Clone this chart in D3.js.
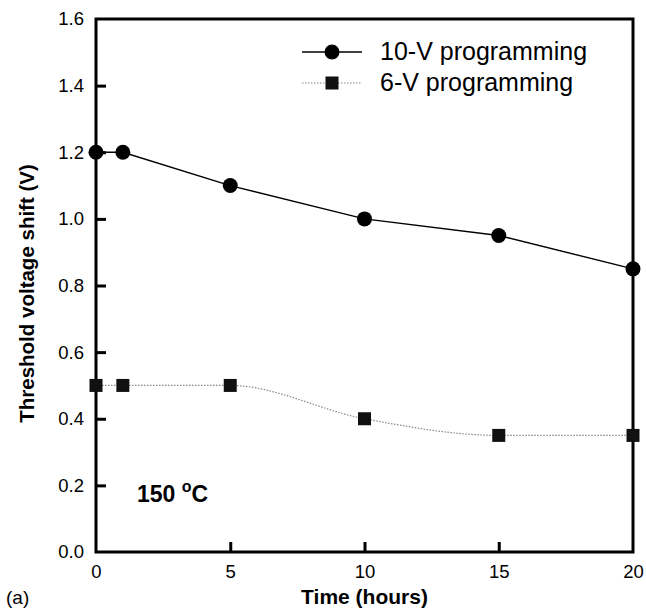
<!DOCTYPE html>
<html>
<head>
<meta charset="utf-8">
<script src="https://cdn.jsdelivr.net/npm/d3@7"></script>
<style>
  body { margin: 0; background: #fff; }
  text { font-family: "Liberation Sans", Arial, sans-serif; }
</style>
</head>
<body>
<svg id="mainsvg" width="646" height="612"></svg>
<script>
// data
const hours = [0, 1, 5, 10, 15, 20];
const shift10V = [1.2, 1.2, 1.1, 1.0, 0.95, 0.85];
const shift6V = [0.5, 0.5, 0.5, 0.4, 0.35, 0.35];
const xTicks = [0, 5, 10, 15, 20];
const yTicks = [0.0, 0.2, 0.4, 0.6, 0.8, 1.0, 1.2, 1.4, 1.6];
const seriesNames = ['10-V programming', '6-V programming'];

const svg = d3.select('#mainsvg');
const margin = { top: 19, bottom: 60, left: 96, right: 13 };
const width = +svg.attr('width');
const height = +svg.attr('height');
const innerWidth = width - margin.left - margin.right;
const innerHeight = height - margin.top - margin.bottom;

const g = svg.append('g')
    .attr('transform', `translate(${margin.left},${margin.top})`);

const x = d3.scaleLinear().domain([0, 20]).range([0, innerWidth]);
const y = d3.scaleLinear().domain([0, 1.6]).range([innerHeight, 0]);

// frame
g.append('rect')
    .attr('width', innerWidth).attr('height', innerHeight)
    .attr('fill', 'none').attr('stroke', '#000').attr('stroke-width', 3);

// y axis, ticks point inward
const yAxis = g.append('g')
    .call(d3.axisLeft(y).tickValues(yTicks).tickFormat(d3.format('.1f')).tickSize(-10).tickPadding(12));
yAxis.select('.domain').remove();
yAxis.selectAll('line').attr('stroke-width', 3)
    .attr('display', d => (d === 0 || d === 1.6) ? 'none' : null);
yAxis.selectAll('text').attr('font-size', 18.5).attr('fill', '#000');

// x axis
const xAxis = g.append('g')
    .attr('transform', `translate(0,${innerHeight})`)
    .call(d3.axisBottom(x).tickValues(xTicks).tickSize(-10).tickPadding(13));
xAxis.select('.domain').remove();
xAxis.selectAll('line').attr('stroke-width', 3)
    .attr('display', d => (d === 0 || d === 20) ? 'none' : null);
xAxis.selectAll('text').attr('font-size', 18.5).attr('fill', '#000');

// series
const d10 = hours.map((h, i) => ({ h: h, v: shift10V[i] }));
const d6 = hours.map((h, i) => ({ h: h, v: shift6V[i] }));

const line10 = d3.line().x(d => x(d.h)).y(d => y(d.v));
const line6 = d3.line().x(d => x(d.h)).y(d => y(d.v)).curve(d3.curveMonotoneX);

g.append('path').datum(d10).attr('d', line10)
    .attr('fill', 'none').attr('stroke', '#000').attr('stroke-width', 1.4);
g.append('path').datum(d6).attr('d', line6)
    .attr('fill', 'none').attr('stroke', '#888').attr('stroke-width', 1.2)
    .attr('stroke-dasharray', '1.5,1.5');

g.selectAll('circle.m10').data(d10).enter()
    .append('circle').attr('class', 'm10')
    .attr('cx', d => x(d.h)).attr('cy', d => y(d.v)).attr('r', 7.5)
    .attr('fill', '#000');

const sq = 13;
g.selectAll('rect.m6').data(d6).enter()
    .append('rect').attr('class', 'm6')
    .attr('x', d => x(d.h) - sq / 2).attr('y', d => y(d.v) - sq / 2)
    .attr('width', sq).attr('height', sq)
    .attr('fill', '#111');

// legend
const legend = svg.append('g').attr('transform', 'translate(302,52)');
legend.append('line').attr('x1', 0).attr('x2', 60).attr('y1', 0).attr('y2', 0)
    .attr('stroke', '#000').attr('stroke-width', 1.6);
legend.append('circle').attr('cx', 30).attr('cy', 0).attr('r', 7.5).attr('fill', '#000');
legend.append('text').attr('x', 78).attr('y', 8).attr('font-size', 25).text(seriesNames[0]);

legend.append('line').attr('x1', 0).attr('x2', 60).attr('y1', 31).attr('y2', 31)
    .attr('stroke', '#888').attr('stroke-width', 1.2).attr('stroke-dasharray', '1.5,1.5');
legend.append('rect').attr('x', 30 - sq / 2).attr('y', 31 - sq / 2).attr('width', sq).attr('height', sq).attr('fill', '#111');
legend.append('text').attr('x', 78).attr('y', 39).attr('font-size', 25).text(seriesNames[1]);

// temperature note
const note = svg.append('text').attr('x', 137).attr('y', 502)
    .attr('font-size', 23).attr('font-weight', 'bold');
note.append('tspan').text('150 ');
note.append('tspan').attr('dy', -10).attr('font-size', 16).text('o');
note.append('tspan').attr('dy', 10).text('C');

// axis titles
svg.append('text')
    .attr('transform', `translate(34,${margin.top + innerHeight / 2 + 8}) rotate(-90)`)
    .attr('text-anchor', 'middle').attr('font-size', 20.5).attr('font-weight', 'bold')
    .text('Threshold voltage shift (V)');
svg.append('text')
    .attr('x', margin.left + innerWidth / 2).attr('y', 604)
    .attr('text-anchor', 'middle').attr('font-size', 21).attr('font-weight', 'bold')
    .text('Time (hours)');
svg.append('text').attr('x', 6).attr('y', 604).attr('font-size', 19).text('(a)');
</script>
</body>
</html>
